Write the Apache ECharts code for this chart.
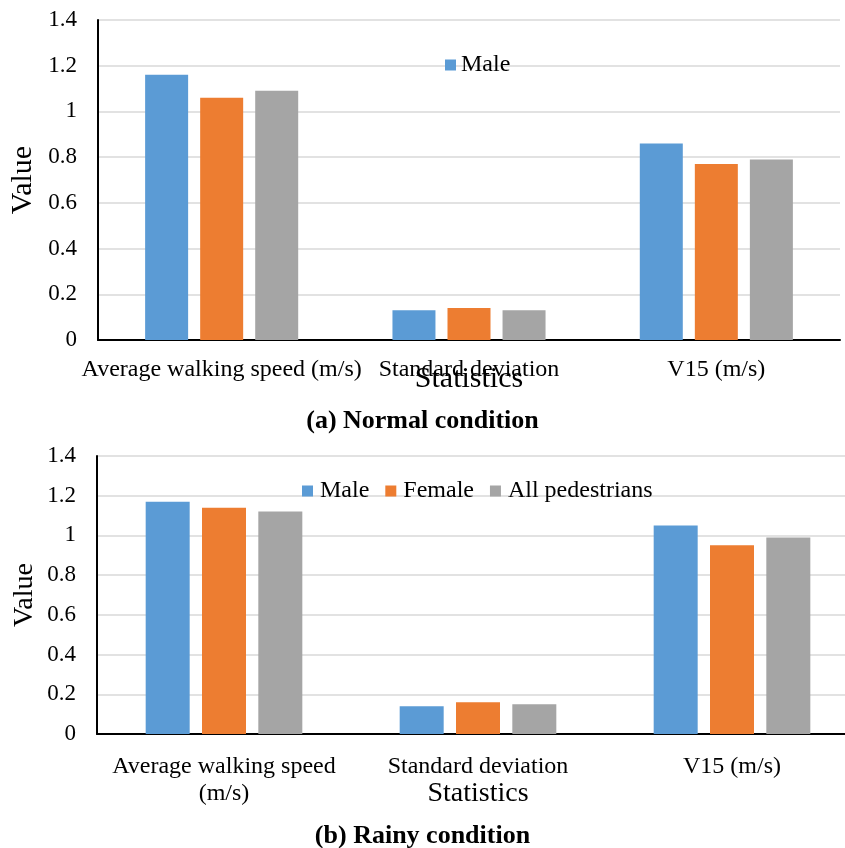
<!DOCTYPE html>
<html><head><meta charset="utf-8">
<script src="https://cdn.jsdelivr.net/npm/echarts@6/dist/echarts.min.js"></script>
<style>html,body{margin:0;padding:0;background:#fff}#c{width:845px;height:848px}</style>
</head><body><div id="c"></div>
<script>
const categoriesTop = ['Average walking speed (m/s)', 'Standard deviation', 'V15 (m/s)'];
const categoriesBottom = ['Average walking speed\n(m/s)', 'Standard deviation', 'V15 (m/s)'];
const seriesNames = ['Male', 'Female', 'All pedestrians'];
const normalMale = [1.16, 0.13, 0.86];
const normalFemale = [1.06, 0.14, 0.77];
const normalAll = [1.09, 0.13, 0.79];
const rainyMale = [1.17, 0.14, 1.05];
const rainyFemale = [1.14, 0.16, 0.95];
const rainyAll = [1.12, 0.15, 0.99];
const colors = ['#5B9BD5', '#ED7D31', '#A5A5A5'];
const F = 'Liberation Serif, Times New Roman, serif';

const chart = echarts.init(document.getElementById('c'));
function yAxis(gi, nameSize, gap){
  return {type:'value', gridIndex:gi, min:0, max:1.4, interval:0.2,
    name:'Value', nameLocation:'middle', nameGap:gap, nameMoveOverlap:false,
    nameTextStyle:{fontFamily:F, fontSize:nameSize, color:'#000'},
    axisLine:{show:true, lineStyle:{color:'#000', width:2}},
    axisTick:{show:false},
    axisLabel:{fontFamily:F, fontSize:23, color:'#000', margin:21, formatter:v=>String(Math.round(v*10)/10)},
    splitLine:{lineStyle:{color:'#d9d9d9', width:1.5}}};
}
function xAxis(gi, cats, nameSize, gap, margin){
  return {type:'category', gridIndex:gi, data:cats,
    name:'Statistics', nameLocation:'middle', nameGap:gap, nameMoveOverlap:false,
    nameTextStyle:{fontFamily:F, fontSize:nameSize, color:'#000'},
    axisLine:{lineStyle:{color:'#000', width:2}},
    axisTick:{show:false},
    axisLabel:{fontFamily:F, fontSize:24, color:'#000', margin:margin, interval:0, lineHeight:27}};
}
function bars(gi, data, bw){
  return data.map((d,i)=>({type:'bar', name:seriesNames[i], xAxisIndex:gi, yAxisIndex:gi,
    data:d, barWidth:bw, barGap:'28%', itemStyle:{color:colors[i]}}));
}
chart.setOption({
  animation:false,
  color:colors,
  title:[
    {text:'(a) Normal condition', left:'center', top:403, textStyle:{fontFamily:F, fontSize:26, fontWeight:'bold', color:'#000'}},
    {text:'(b) Rainy condition', left:'center', top:818, textStyle:{fontFamily:F, fontSize:26, fontWeight:'bold', color:'#000'}}
  ],
  legend:[
    {data:['Male'], left:440, top:48, icon:'rect', itemWidth:11, itemHeight:11, itemGap:16,
      textStyle:{fontFamily:F, fontSize:24, color:'#000', padding:[0,0,0,0]}},
    {data:seriesNames, left:297, top:474, icon:'rect', itemWidth:11, itemHeight:11, itemGap:16,
      textStyle:{fontFamily:F, fontSize:24, color:'#000', padding:[0,0,0,2]}}
  ],
  grid:[
    {left:98, top:20, width:742, height:320, outerBoundsMode:'none'},
    {left:97, top:456, width:762, height:278, outerBoundsMode:'none'}
  ],
  xAxis:[xAxis(0, categoriesTop, 30, 24, 16), xAxis(1, categoriesBottom, 28, 46, 19)],
  yAxis:[yAxis(0, 30, 60), yAxis(1, 28, 58)],
  series:[
    ...bars(0, [normalMale, normalFemale, normalAll], 43),
    ...bars(1, [rainyMale, rainyFemale, rainyAll], 44)
  ]
});
</script></body></html>
